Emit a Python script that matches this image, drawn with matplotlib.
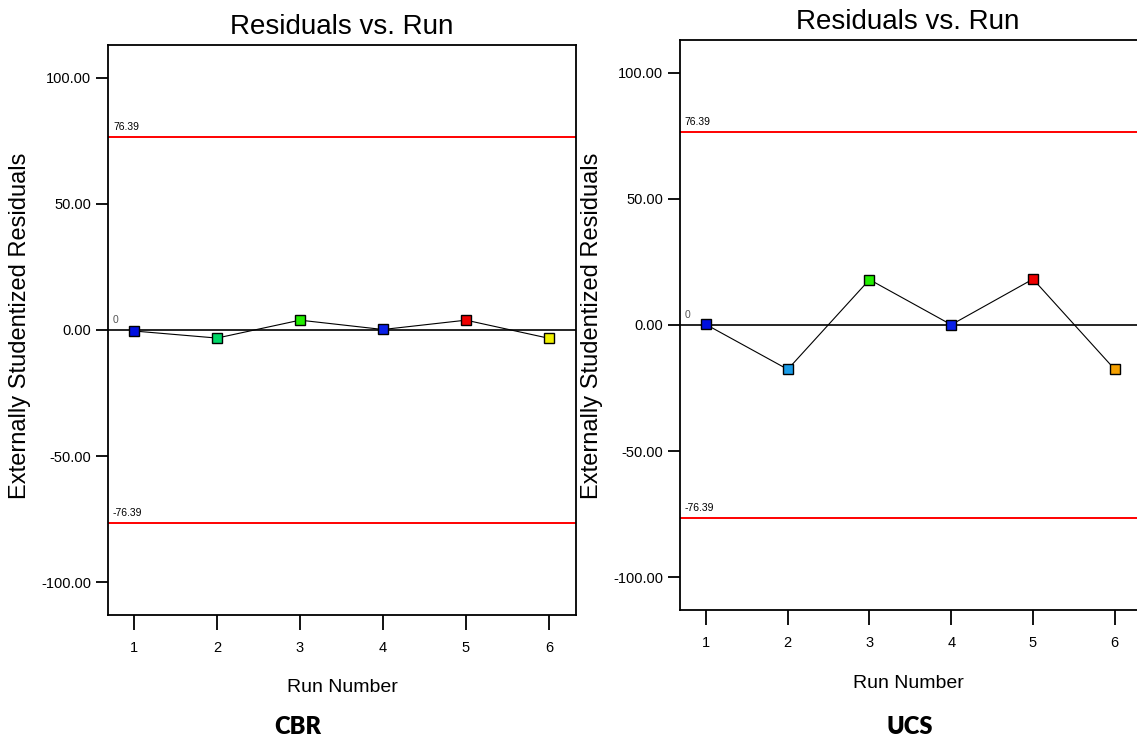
import matplotlib
matplotlib.use("Agg")
import matplotlib.pyplot as plt

# Residuals for each run
runs = [1, 2, 3, 4, 5, 6]
cbr_resid = [-0.4, -3.2, 3.9, 0.2, 3.9, -3.3]
ucs_resid = [0.2, -17.6, 18.0, 0.1, 18.2, -17.6]
cbr_colors = ["#0010e0", "#00d868", "#22ee00", "#0a20e8", "#ee0000", "#f0f000"]
ucs_colors = ["#0010e0", "#1a9ce8", "#22ee00", "#0a20e8", "#ee0000", "#f5a000"]
limit = 76.39
yticks = [-100, -50, 0, 50, 100]

W, H = 1137, 741
sans = "Liberation Sans"

fig = plt.figure(figsize=(W / 100, H / 100), dpi=100)


def panel(rect, xlim, ylim, resid, colors):
    ax = fig.add_axes(rect)
    ax.set_xlim(*xlim)
    ax.set_ylim(*ylim)
    for s in ax.spines.values():
        s.set_linewidth(1.3)
    ax.axhline(0, color="black", lw=1.2, zorder=1)
    for y in (limit, -limit):
        ax.axhline(y, color="#ff0000", lw=1.4, zorder=1)
        ax.text(xlim[0] + 0.06, y + 2, f"{y:.2f}", fontsize=7.5,
                family=sans, va="bottom", ha="left")
    ax.text(xlim[0] + 0.06, 2, "0", fontsize=7.5, family=sans,
            va="bottom", ha="left", color="#555555")
    ax.plot(runs, resid, color="black", lw=0.8, zorder=2)
    for x, y, c in zip(runs, resid, colors):
        ax.plot(x, y, marker="s", ms=7.5, mfc=c, mec="black", mew=1.0, zorder=3)
    ax.set_xticks(runs)
    ax.set_yticks(yticks)
    ax.set_yticklabels([f"{v:.2f}" for v in yticks])
    ax.tick_params(axis="y", length=9, width=1.3, pad=3)
    ax.tick_params(axis="x", length=11, width=1.3, pad=8)
    for lab in ax.get_xticklabels() + ax.get_yticklabels():
        lab.set_family(sans)
        lab.set_fontsize(10.5)
    return ax


panel([108 / W, 1 - 615 / H, 468 / W, 570 / H], (0.687, 6.325), (-113, 113),
      cbr_resid, cbr_colors)
panel([680 / W, 1 - 610 / H, 465 / W, 570 / H], (0.682, 6.37), (-113, 113),
      ucs_resid, ucs_colors)

# titles, axis labels and panel captions
for cx, ty, xy, ylx in [(342, 27, 688, 20), (908, 22, 683, 592)]:
    fig.text(cx / W, 1 - ty / H, "Residuals vs. Run", fontsize=20, family=sans,
             ha="center", va="center")
    fig.text(cx / W, 1 - xy / H, "Run Number", fontsize=14, family=sans,
             ha="center", va="center")
    fig.text(ylx / W, 1 - 326 / H, "Externally Studentized Residuals", fontsize=17,
             family=sans, rotation=90, ha="center", va="center")

fig.text(298 / W, 1 - 727 / H, "CBR", fontsize=17, family="Lato", weight="heavy",
         ha="center", va="center")
fig.text(910 / W, 1 - 727 / H, "UCS", fontsize=17, family="Lato", weight="heavy",
         ha="center", va="center")

fig.savefig("out.png", dpi=100)
